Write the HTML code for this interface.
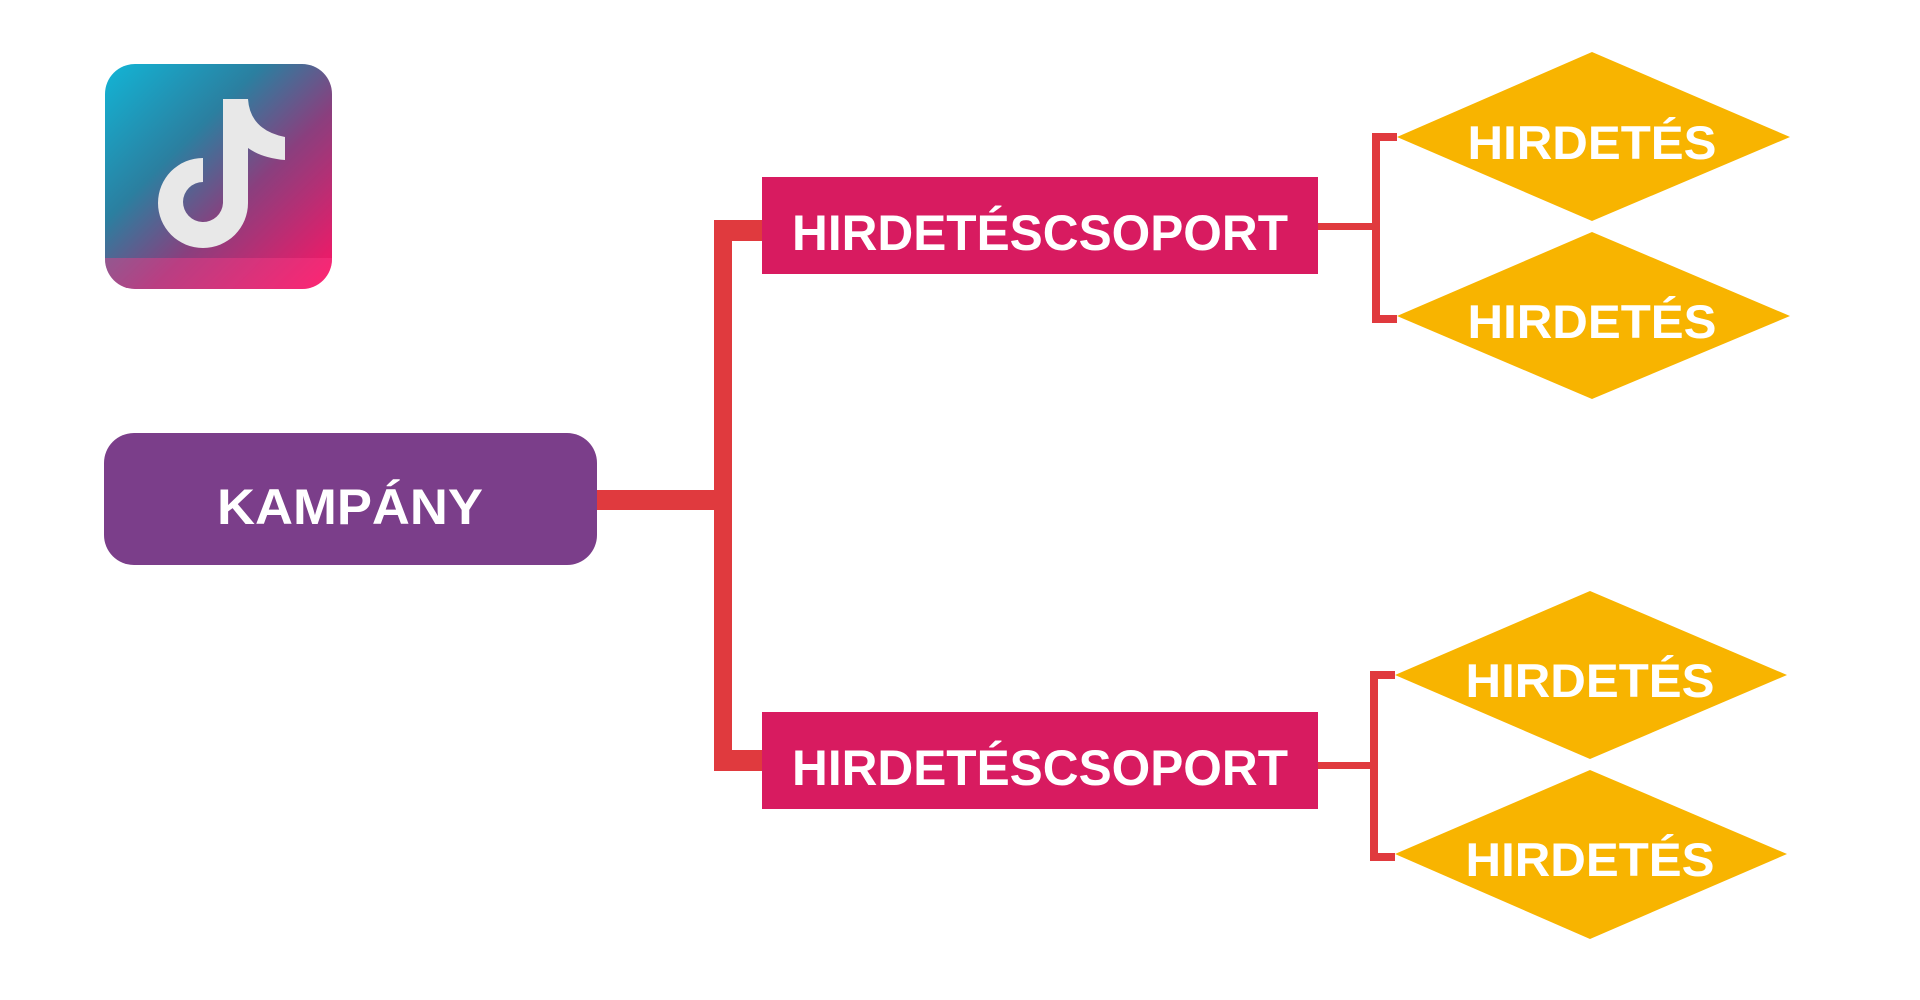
<!DOCTYPE html>
<html><head><meta charset="utf-8"><style>
html,body{margin:0;padding:0;background:#fff;width:1920px;height:1000px;overflow:hidden}
svg{display:block}
text{font-family:"Liberation Sans",sans-serif;font-weight:bold;fill:#fff}
</style></head><body>
<svg width="1920" height="1000" viewBox="0 0 1920 1000" xmlns="http://www.w3.org/2000/svg">
<defs>
<linearGradient id="lg" x1="0" y1="0" x2="1" y2="1">
<stop offset="0" stop-color="#12b5d6"/><stop offset="0.35" stop-color="#2b7fa0"/>
<stop offset="0.6" stop-color="#8a3f7e"/><stop offset="1" stop-color="#ff1464"/>
</linearGradient>
<clipPath id="cp"><rect x="105" y="64" width="227" height="225" rx="30"/></clipPath>
</defs>
<!-- logo -->
<rect x="105" y="64" width="227" height="225" rx="30" fill="url(#lg)"/>
<rect x="105" y="258" width="227" height="31" fill="#ff3f8a" opacity="0.4" clip-path="url(#cp)"/>
<g fill="#e8e8e8">
<path d="M223 99 H248 Q250 130 285 137 V160 Q262 158 248 148 V203 A45 45 0 1 1 203 158 V182 A20 20 0 1 0 223 203 Z"/>
</g>
<!-- KAMPANY -->
<rect x="104" y="433" width="493" height="132" rx="30" fill="#7b3e8a"/>
<text x="350" y="524" font-size="50" text-anchor="middle" textLength="266" lengthAdjust="spacingAndGlyphs">KAMPÁNY</text>
<!-- thick connectors -->
<g fill="#e03a3e">
<rect x="597" y="490" width="135" height="20"/>
<rect x="714" y="220" width="18" height="551"/>
<rect x="714" y="220" width="48" height="21"/>
<rect x="714" y="750" width="48" height="21"/>
</g>
<!-- group boxes -->
<rect x="762" y="177" width="556" height="97" fill="#d81b60"/>
<text x="1040" y="250" font-size="50" text-anchor="middle" textLength="496" lengthAdjust="spacingAndGlyphs">HIRDETÉSCSOPORT</text>
<rect x="762" y="712" width="556" height="97" fill="#d81b60"/>
<text x="1040" y="785" font-size="50" text-anchor="middle" textLength="496" lengthAdjust="spacingAndGlyphs">HIRDETÉSCSOPORT</text>
<!-- thin connectors -->
<g fill="#e03a3e">
<rect x="1318" y="223" width="58" height="7"/>
<rect x="1372" y="133" width="8" height="190"/>
<rect x="1372" y="133" width="25" height="8"/>
<rect x="1372" y="315" width="25" height="8"/>
<rect x="1318" y="762" width="58" height="7"/>
<rect x="1370" y="671" width="8" height="190"/>
<rect x="1370" y="671" width="25" height="8"/>
<rect x="1370" y="853" width="25" height="8"/>
</g>
<!-- diamonds -->
<g fill="#f8b400">
<polygon points="1397,137 1592,52 1790,137 1592,221"/>
<polygon points="1397,316 1592,232 1790,316 1592,399"/>
<polygon points="1395,675 1590,591 1787,675 1590,759"/>
<polygon points="1395,854 1590,770 1787,854 1590,939"/>
</g>
<g font-size="47" text-anchor="middle">
<text x="1592" y="159" textLength="249" lengthAdjust="spacingAndGlyphs">HIRDETÉS</text>
<text x="1592" y="338" textLength="249" lengthAdjust="spacingAndGlyphs">HIRDETÉS</text>
<text x="1590" y="697" textLength="249" lengthAdjust="spacingAndGlyphs">HIRDETÉS</text>
<text x="1590" y="876" textLength="249" lengthAdjust="spacingAndGlyphs">HIRDETÉS</text>
</g>
</svg>
</body></html>
